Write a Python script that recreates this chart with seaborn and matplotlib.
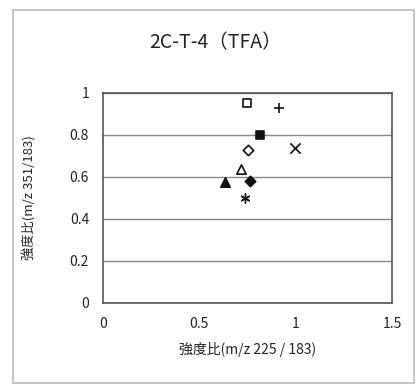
import matplotlib
matplotlib.use("Agg")
import matplotlib.pyplot as plt
import seaborn as sns
import pandas as pd
from matplotlib.patches import Rectangle

sns.set_theme(style="white")
plt.rcParams['font.family'] = ['Noto Sans CJK JP', 'DejaVu Sans']

# data
x_vals = [0.745, 0.913, 0.813, 0.751, 0.995, 0.715, 0.632, 0.762, 0.739]
y_vals = [0.954, 0.927, 0.800, 0.729, 0.737, 0.637, 0.578, 0.582, 0.501]
series = ["s1", "s2", "s3", "s4", "s5", "s6", "s7", "s8", "s9"]
x_ticks = [0, 0.5, 1, 1.5]
x_tick_labels = ["0", "0.5", "1", "1.5"]
y_ticks = [0, 0.2, 0.4, 0.6, 0.8, 1]
y_tick_labels = ["0", "0.2", "0.4", "0.6", "0.8", "1"]
title = "2C-T-4（TFA）"
x_label = "強度比(m/z 225 / 183)"
y_label = "強度比(m/z 351/183)"

markers = {"s1": "s", "s2": "+", "s3": "s", "s4": "D", "s5": "x",
           "s6": "^", "s7": "^", "s8": "D", "s9": (6, 2, 0)}
filled = {"s1": False, "s2": True, "s3": True, "s4": False, "s5": True,
          "s6": False, "s7": True, "s8": True, "s9": True}
sizes = {"s1": 40, "s2": 60, "s3": 40, "s4": 28, "s5": 55,
         "s6": 45, "s7": 45, "s8": 28, "s9": 42}

df = pd.DataFrame({"x": x_vals, "y": y_vals, "s": series})

fig = plt.figure(figsize=(4.17, 3.87), dpi=100)
fig.patches.append(Rectangle((13 / 417, 1 - 383 / 387), (414 - 13) / 417, (383 - 10) / 387,
                             transform=fig.transFigure, fill=False,
                             edgecolor="#bbbbbb", linewidth=1.2))
ax = fig.add_axes([103 / 417, 1 - 303 / 387, (392 - 103) / 417, (303 - 93) / 387])

for s in series:
    sub = df[df["s"] == s]
    m = markers[s]
    lw = 1.0 if s == "s9" else 1.2
    if filled[s]:
        sns.scatterplot(data=sub, x="x", y="y", marker=m, s=sizes[s], color="#111111",
                        edgecolor="#111111", linewidth=lw, ax=ax, legend=False, zorder=3)
    else:
        sns.scatterplot(data=sub, x="x", y="y", marker=m, s=sizes[s], facecolor="white",
                        edgecolor="#111111", linewidth=lw, ax=ax, legend=False, zorder=3)

ax.set_xlim(0, 1.5)
ax.set_ylim(0, 1)
ax.set_xticks(x_ticks)
ax.set_xticklabels(x_tick_labels)
ax.set_yticks(y_ticks)
ax.set_yticklabels(y_tick_labels)
ax.tick_params(axis="both", labelsize=10, colors="#222222", length=0, pad=10)
ax.yaxis.grid(True, color="#888888", linewidth=1.0)
ax.xaxis.grid(False)
for sp in ax.spines.values():
    sp.set_color("#555555")
    sp.set_linewidth(1.2)
ax.set_xlabel(x_label, fontsize=10, color="#222222", labelpad=8)
ax.set_ylabel(y_label, fontsize=9.5, color="#222222", labelpad=24)
fig.text(216 / 417, 1 - 43 / 387, title, ha="center", va="center", fontsize=14, color="#222222")

fig.savefig("out.png", dpi=100)
